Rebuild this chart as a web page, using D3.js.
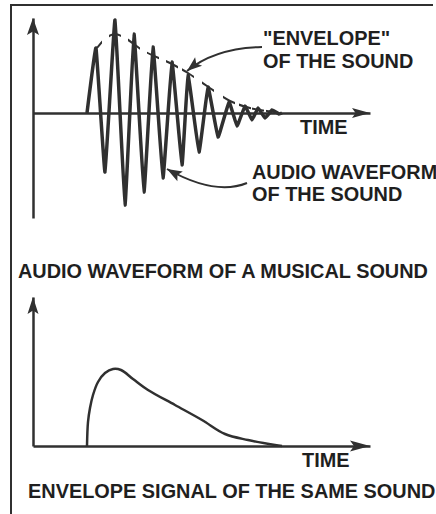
<!DOCTYPE html>
<html>
<head>
<meta charset="utf-8">
<script src="https://cdn.jsdelivr.net/npm/d3@7"></script>
<style>
  body { margin: 0; background: #fff; }
  text { font-family: "Liberation Sans", Arial, sans-serif; font-weight: bold; fill: #1f1f1f; }
</style>
</head>
<body>
<script>
// waveform of the sound: time offset / amplitude
const waveTime = [54, 63, 72, 82, 92, 101, 111, 120, 130, 139, 149, 155, 166, 175, 185, 196, 204, 212, 219, 225, 232, 239, 246, 249]
const waveAmp  = [0, 65, -59, 93, -92, 79, -79, 66, -65, 51, -52, 38, -39, 26, -24, 11, -13, 7, -7, 5, -5, 3, -1, 0]

// envelope over the peaks
const envTime = [64, 71, 82, 92, 109, 137, 155, 174, 197, 217, 242]
const envAmp  = [65, 73, 79, 75, 63, 50, 40, 27, 12, 5, 1]

// envelope signal (bottom chart)
const sigTime = [54, 55, 57, 60, 65, 72, 80, 88, 100, 115, 142, 169, 192, 215, 242, 249]
const sigAmp  = [0, 24, 38, 51, 64, 73, 77, 76, 67, 56, 41, 26, 12, 6, 1, 0]

const labels = ['"ENVELOPE"', 'OF THE SOUND', 'TIME', 'AUDIO WAVEFORM', 'OF THE SOUND']
const titles = ['AUDIO WAVEFORM OF A MUSICAL SOUND', 'ENVELOPE SIGNAL OF THE SAME SOUND']
const bottomLabel = 'TIME'

const width = 436
const height = 514
const ink = '#303030'

const svg = d3.select('body').append('svg')
  .attr('width', width)
  .attr('height', height)

// frame (top and left only)
svg.append('path')
  .attr('d', 'M11,514V5H433')
  .attr('fill', 'none')
  .attr('stroke', ink)
  .attr('stroke-width', 2)

var x = d3.scaleLinear().domain([0, 337]).range([33, 370])
var yTop = d3.scaleLinear().domain([-105, 95]).range([218, 18])
var yBot = d3.scaleLinear().domain([0, 149]).range([446, 297])

function styleAxis(g) {
  g.select('.domain').attr('stroke', ink).attr('stroke-width', 2.5)
}

function arrowHead(tx, ty, dx, dy, len, half) {
  var n = Math.sqrt(dx * dx + dy * dy)
  var ux = dx / n, uy = dy / n
  var bx = tx - ux * len, by = ty - uy * len
  var nx = tx - ux * len * 0.8, ny = ty - uy * len * 0.8
  svg.append('path')
    .attr('d', 'M' + tx + ',' + ty +
      'L' + (bx - uy * half) + ',' + (by + ux * half) +
      'L' + nx + ',' + ny +
      'L' + (bx + uy * half) + ',' + (by - ux * half) + 'Z')
    .attr('fill', ink)
}

// top chart axes
svg.append('g')
  .attr('transform', 'translate(0,' + yTop(0) + ')')
  .call(d3.axisBottom(x).tickValues([]).tickSizeOuter(0))
  .call(styleAxis)
svg.append('g')
  .attr('transform', 'translate(' + x(0) + ',0)')
  .call(d3.axisLeft(yTop).tickValues([]).tickSizeOuter(0))
  .call(styleAxis)
arrowHead(x(337), yTop(0), 1, 0, 18, 5)
arrowHead(x(0), yTop(95), 0, -1, 17, 6)

// bottom chart axes
svg.append('g')
  .attr('transform', 'translate(0,' + yBot(0) + ')')
  .call(d3.axisBottom(x).tickValues([]).tickSizeOuter(0))
  .call(styleAxis)
svg.append('g')
  .attr('transform', 'translate(' + x(0) + ',0)')
  .call(d3.axisLeft(yBot).tickValues([]).tickSizeOuter(0))
  .call(styleAxis)
arrowHead(x(337), yBot(0), 1, 0, 20, 5.5)
arrowHead(x(0), yBot(149), 0, -1, 17, 5.5)

// waveform
var wave = waveTime.map((t, i) => [t, waveAmp[i]])
svg.append('path')
  .datum(wave)
  .attr('d', d3.line().x(d => x(d[0])).y(d => yTop(d[1])).curve(d3.curveCardinal.tension(0.75)))
  .attr('fill', 'none')
  .attr('stroke', ink)
  .attr('stroke-width', 3.5)
  .attr('stroke-linejoin', 'round')

// envelope, only visible near each peak
var peaks = wave.filter((d, i) => i > 0 && d[1] > 0)
var clip = svg.append('clipPath').attr('id', 'near-peaks')
clip.selectAll('rect')
  .data(peaks)
  .enter()
  .append('rect')
  .attr('x', d => x(d[0]) - 6)
  .attr('y', 0)
  .attr('width', 12)
  .attr('height', 200)

svg.append('path')
  .datum(envTime.map((t, i) => [t, envAmp[i]]))
  .attr('d', d3.line().x(d => x(d[0])).y(d => yTop(d[1])).curve(d3.curveMonotoneX))
  .attr('fill', 'none')
  .attr('stroke', ink)
  .attr('stroke-width', 2)
  .attr('clip-path', 'url(#near-peaks)')

// envelope signal
svg.append('path')
  .datum(sigTime.map((t, i) => [t, sigAmp[i]]))
  .attr('d', d3.line().x(d => x(d[0])).y(d => yBot(d[1])).curve(d3.curveCatmullRom.alpha(0.5)))
  .attr('fill', 'none')
  .attr('stroke', ink)
  .attr('stroke-width', 2.5)

// callout arrows
function callout(x0, y0, cx, cy, x1, y1) {
  svg.append('path')
    .attr('d', 'M' + x0 + ',' + y0 + 'Q' + cx + ',' + cy + ' ' + x1 + ',' + y1)
    .attr('fill', 'none')
    .attr('stroke', ink)
    .attr('stroke-width', 2)
  arrowHead(x1, y1, x1 - cx, y1 - cy, 15, 5.5)
}
callout(262, 47, 215, 48, 187, 71)
callout(247, 183, 215, 196, 167, 169)

// texts
var labelPos = [[263, 45], [263, 68], [300, 134], [252, 179], [252, 201]]
svg.selectAll('text.label')
  .data(labels)
  .enter()
  .append('text')
  .attr('class', 'label')
  .attr('x', (d, i) => labelPos[i][0])
  .attr('y', (d, i) => labelPos[i][1])
  .style('font-size', '19.9px')
  .text(d => d)

var titlePos = [[18, 278], [28, 498]]
svg.selectAll('text.title')
  .data(titles)
  .enter()
  .append('text')
  .attr('class', 'title')
  .attr('x', (d, i) => titlePos[i][0])
  .attr('y', (d, i) => titlePos[i][1])
  .style('font-size', '19.9px')
  .text(d => d)

svg.append('text')
  .attr('x', 302)
  .attr('y', 467)
  .style('font-size', '19.9px')
  .text(bottomLabel)
</script>
</body>
</html>
